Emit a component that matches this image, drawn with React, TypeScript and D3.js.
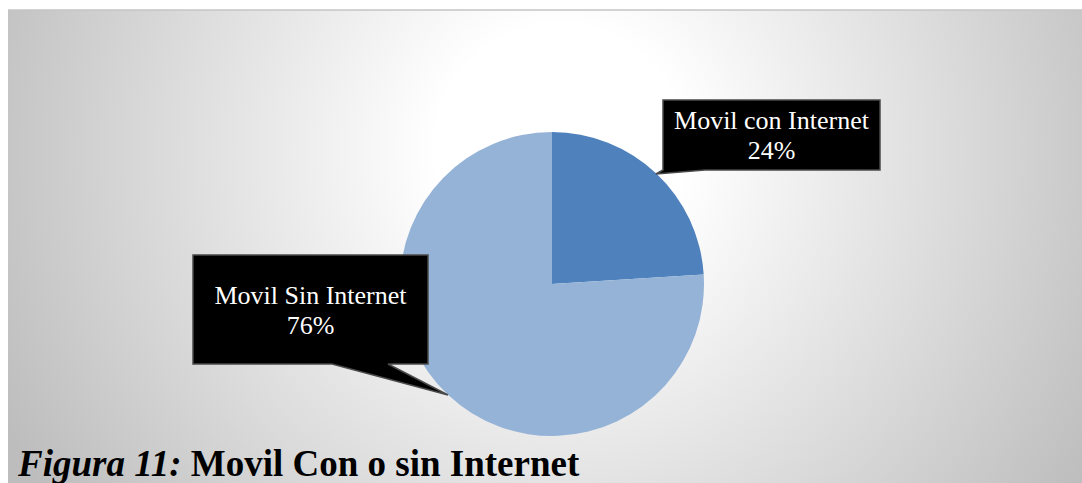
import React, { useEffect, useRef } from 'react';
import * as d3 from 'd3';

// chart data
const categories = ['Movil con Internet', 'Movil Sin Internet'];
const values = [24, 76];
const colors = ['#4F81BD', '#95B3D7'];

const App = () => {
  const ref = useRef<SVGSVGElement | null>(null);

  useEffect(() => {
    if (!ref.current) return;
    const svg = d3.select(ref.current);
    svg.selectAll('*').remove();

    const width = 1082;
    const height = 483;

    // radial background like the office chart area
    const defs = svg.append('defs');
    const grad = defs.append('radialGradient')
      .attr('id', 'bg')
      .attr('gradientUnits', 'userSpaceOnUse')
      .attr('cx', 560)
      .attr('cy', 150)
      .attr('r', 620);
    grad.append('stop').attr('offset', '0').attr('stop-color', '#ffffff');
    grad.append('stop').attr('offset', '0.2').attr('stop-color', '#ffffff');
    grad.append('stop').attr('offset', '1').attr('stop-color', '#bdbdbd');

    svg.append('rect').attr('width', width).attr('height', height).attr('fill', '#ffffff');
    svg.append('rect')
      .attr('x', 8).attr('y', 10)
      .attr('width', width - 8).attr('height', height - 10)
      .attr('fill', 'url(#bg)');
    svg.append('line')
      .attr('x1', 8).attr('x2', width).attr('y1', 10).attr('y2', 10)
      .attr('stroke', '#c4c4c4').attr('stroke-width', 1.5);

    // pie
    const cx = 552;
    const cy = 284;
    const r = 152;
    const data = categories.map((c, i) => ({ name: c, value: values[i], color: colors[i] }));
    const pie = d3.pie<any>().value(d => d.value).sort(null);
    const arc = d3.arc<any>().innerRadius(0).outerRadius(r);
    const total = d3.sum(values);

    svg.append('g')
      .attr('transform', `translate(${cx},${cy})`)
      .selectAll('path')
      .data(pie(data))
      .enter()
      .append('path')
      .attr('d', arc)
      .attr('fill', d => d.data.color);

    // callouts
    const callouts = [
      { box: [663, 100, 880, 170], path: 'M663,100 H880 V170 H705 L656,174 L663,170 Z', lines: [129, 159] },
      { box: [193, 255, 428, 364], path: 'M193,255 H428 V364 H388 L448,395 L332,364 H193 Z', lines: [304, 334] }
    ];

    data.forEach((d, i) => {
      const c = callouts[i];
      svg.append('path')
        .attr('d', c.path)
        .attr('fill', '#000')
        .attr('stroke', '#4a4a4a')
        .attr('stroke-width', 1.5);
      const tx = (c.box[0] + c.box[2]) / 2;
      const pct = Math.round((d.value / total) * 100) + '%';
      [d.name, pct].forEach((t, j) => {
        svg.append('text')
          .attr('x', tx)
          .attr('y', c.lines[j])
          .attr('text-anchor', 'middle')
          .style('font-family', '"Liberation Serif", "Times New Roman", serif')
          .style('font-size', '26px')
          .style('fill', '#fff')
          .text(t);
      });
    });

    // figure caption
    const title = svg.append('text')
      .attr('x', 18)
      .attr('y', 476)
      .style('font-family', '"Liberation Serif", "Times New Roman", serif')
      .style('font-size', '37px')
      .style('font-weight', 'bold')
      .style('fill', '#000');
    title.append('tspan').style('font-style', 'italic').text('Figura 11:');
    title.append('tspan').text(' Movil Con o sin Internet');
  }, []);

  return (
    <div style={{ position: 'absolute', left: 0, top: 0, width: 1082, height: 483 }}>
      <svg ref={ref} width={1082} height={483} style={{ display: 'block' }} />
    </div>
  );
};

export default App;
